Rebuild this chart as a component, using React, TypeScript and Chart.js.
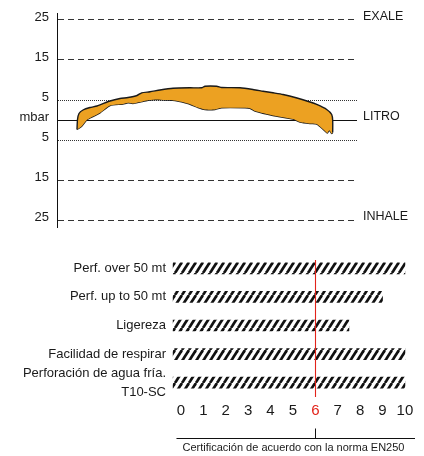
import React, { useEffect, useRef } from 'react';
import { Chart, registerables } from 'chart.js';

Chart.register(...registerables);

const FONT = '"Liberation Sans", Arial, sans-serif';
const INK = '#1a1a1a';
const RED = '#e2231a';
const ORANGE = '#eca122';

// ---------- top chart: breathing loop (mbar) ----------
const upperX = [6.67, 6.83, 7.33, 8.67, 11, 13.33, 17.67, 21, 23.67, 26.67, 28.23, 31, 34.33, 38.67, 44.33, 48.23, 49.33, 53.23, 54.9, 61, 65.33, 68.67, 72, 75.33, 80, 84.33, 86.57, 89.9, 91.57, 91.9, 91.9];
const upperY = [-2.38, 0.13, 1.63, 2.5, 3.13, 3.5, 4.75, 5.38, 5.63, 6.13, 6.8, 7.05, 7.5, 7.93, 8.05, 8.05, 8.45, 8.45, 8.13, 8.05, 7.63, 7.2, 6.8, 6.38, 5.5, 4.5, 3.88, 2.63, 1.38, -0.13, -3.13];
const lowerX = [6.67, 8.23, 9.9, 11, 14.33, 17.67, 22, 23.67, 25.33, 27.67, 30.33, 33.23, 36, 39.33, 43.67, 47, 49.33, 52.67, 54.9, 62.67, 64.33, 66, 72, 78.67, 81, 84.33, 86.57, 87.67, 89.33, 90.1, 90.77, 91.57, 91.9];
const lowerY = [-2.38, -1.55, 0, 0.5, 1.8, 3.63, 4, 4.3, 4.13, 4.5, 4.95, 5.13, 5, 4.88, 4.13, 3.13, 2.63, 2.63, 3.05, 3.05, 2.93, 2.25, 1.13, 0.25, -0.5, -0.88, -1, -1.63, -2.75, -3.25, -2.55, -3.38, -3.13];
const yTickValues = [25, 15, 5, 0, -5, -15, -25];
const yTickLabels = ['25', '15', '5', 'mbar', '5', '15', '25'];
const rightTickValues = [25, 0, -25];
const rightTickLabels = ['EXALE', 'LITRO', 'INHALE'];

// ---------- bottom chart: ratings ----------
const categories: (string | string[])[] = [
  'Perf. over 50 mt',
  'Perf. up to 50 mt',
  'Ligereza',
  'Facilidad de respirar',
  ['Perforación de agua fría.', 'T10-SC'],
];
const scores = [10, 9, 7.5, 10, 10];
const scoreTicks = [0, 1, 2, 3, 4, 5, 6, 7, 8, 9, 10];
const certifiedScore = 6;
const axisTitle = 'Certificación de acuerdo con la norma EN250';

function fixSize(s: any, w?: number, h?: number) {
  if (w !== undefined) s.width = w;
  if (h !== undefined) s.height = h;
  s.paddingTop = 0;
  s.paddingBottom = 0;
  s.paddingLeft = 0;
  s.paddingRight = 0;
}

function makeHatch(): CanvasPattern | string {
  const W = 7;
  const H = 11;
  const c = document.createElement('canvas');
  c.width = W;
  c.height = H;
  const g = c.getContext('2d');
  if (!g) return INK;
  g.strokeStyle = '#111';
  g.lineWidth = 2.7;
  for (const o of [-W, 0, W]) {
    g.beginPath();
    g.moveTo(o, H);
    g.lineTo(o + W, 0);
    g.stroke();
  }
  return g.createPattern(c, 'repeat') || INK;
}

function TopChart() {
  const ref = useRef<HTMLCanvasElement>(null);
  useEffect(() => {
    if (!ref.current) return;
    const chart = new Chart(ref.current, {
      type: 'line',
      data: {
        datasets: [
          {
            data: upperX.map((x, i) => ({ x, y: upperY[i] })),
            borderColor: INK,
            borderWidth: 1.4,
            backgroundColor: ORANGE,
            fill: '+1',
            pointRadius: 0,
            tension: 0.2,
          },
          {
            data: lowerX.map((x, i) => ({ x, y: lowerY[i] })),
            borderColor: INK,
            borderWidth: 1.4,
            fill: false,
            pointRadius: 0,
            tension: 0.2,
          },
        ],
      },
      options: {
        animation: false,
        responsive: false,
        maintainAspectRatio: false,
        layout: { padding: { top: 13, bottom: 13, left: 0, right: 0 } },
        plugins: { legend: { display: false }, tooltip: { enabled: false } },
        scales: {
          x: { type: 'linear', min: 0, max: 100, display: false },
          y: {
            type: 'linear',
            min: -26.75,
            max: 26.75,
            position: 'left',
            z: 1,
            afterBuildTicks: (s: any) => {
              s.ticks = yTickValues.map((v) => ({ value: v }));
            },
            afterFit: (s: any) => fixSize(s, 57),
            ticks: {
              callback: (v: any) => yTickLabels[yTickValues.indexOf(Number(v))],
              font: { family: FONT, size: 13 },
              color: INK,
              padding: 8,
              labelOffset: -3,
              autoSkip: false,
            },
            grid: {
              drawTicks: false,
              lineWidth: 1,
              color: (ctx: any) => (ctx.tick && ctx.tick.value === 0 ? '#111' : '#333'),
            },
            border: {
              display: true,
              color: '#111',
              width: 1,
              dash: (ctx: any) => {
                const v = ctx.tick ? ctx.tick.value : undefined;
                if (v === undefined || v === 0) return [];
                if (Math.abs(v) === 5) return [1, 1];
                return [6, 4];
              },
            },
          },
          y2: {
            type: 'linear',
            min: -26.75,
            max: 26.75,
            position: 'right',
            afterBuildTicks: (s: any) => {
              s.ticks = rightTickValues.map((v) => ({ value: v }));
            },
            afterFit: (s: any) => fixSize(s, 67),
            ticks: {
              callback: (v: any) => rightTickLabels[rightTickValues.indexOf(Number(v))],
              font: { family: FONT, size: 12.5 },
              color: INK,
              padding: 6,
              labelOffset: -3,
              autoSkip: false,
            },
            grid: { display: false, drawTicks: false },
            border: { display: false },
          },
        },
      },
    } as any);
    return () => chart.destroy();
  }, []);
  return <canvas ref={ref} width={424} height={240} style={{ display: 'block' }} />;
}

function BottomChart() {
  const ref = useRef<HTMLCanvasElement>(null);
  useEffect(() => {
    if (!ref.current) return;
    const markerPlugin = {
      id: 'certMarker',
      afterDatasetsDraw(chart: any) {
        const { ctx, chartArea } = chart;
        const x = chart.scales.x;
        const px = Math.round(x.getPixelForValue(certifiedScore)) + 0.5;
        ctx.save();
        ctx.strokeStyle = RED;
        ctx.lineWidth = 1.1;
        ctx.beginPath();
        ctx.moveTo(px, chartArea.top + 6);
        ctx.lineTo(px, chartArea.bottom);
        ctx.stroke();
        const yLine = Math.round(x.bottom - 18) + 0.5;
        ctx.strokeStyle = '#111';
        ctx.lineWidth = 1;
        ctx.beginPath();
        ctx.moveTo(x.getPixelForValue(-0.2), yLine);
        ctx.lineTo(chartArea.right, yLine);
        ctx.stroke();
        ctx.beginPath();
        ctx.moveTo(px, yLine - 10);
        ctx.lineTo(px, yLine);
        ctx.stroke();
        ctx.restore();
      },
    };
    const chart = new Chart(ref.current, {
      type: 'bar',
      data: {
        labels: categories,
        datasets: [
          {
            data: scores,
            backgroundColor: makeHatch(),
            borderWidth: 0,
            barThickness: 11,
            base: -0.35,
          },
        ],
      },
      options: {
        indexAxis: 'y',
        animation: false,
        responsive: false,
        maintainAspectRatio: false,
        layout: { padding: { top: 14, right: 9, left: 0, bottom: 0 } },
        plugins: { legend: { display: false }, tooltip: { enabled: false } },
        scales: {
          x: {
            type: 'linear',
            min: -0.4,
            max: 10.45,
            afterBuildTicks: (s: any) => {
              s.ticks = scoreTicks.map((v) => ({ value: v }));
            },
            afterFit: (s: any) => fixSize(s, undefined, 59),
            ticks: {
              font: { family: FONT, size: 15 },
              color: (ctx: any) => (ctx.tick && ctx.tick.value === certifiedScore ? RED : INK),
              padding: 5,
              autoSkip: false,
              maxRotation: 0,
            },
            grid: { display: false, drawTicks: false },
            border: { display: false },
            title: {
              display: true,
              text: axisTitle,
              font: { family: FONT, size: 11 },
              color: INK,
              padding: { top: 4, bottom: 1 },
            },
          },
          y: {
            afterFit: (s: any) => fixSize(s, 172),
            ticks: {
              font: { family: FONT, size: 13, lineHeight: 1.45 },
              color: INK,
              padding: 6,
              autoSkip: false,
            },
            grid: { display: false, drawTicks: false },
            border: { display: false },
          },
        },
      },
      plugins: [markerPlugin],
    } as any);
    return () => chart.destroy();
  }, []);
  return <canvas ref={ref} width={424} height={216} style={{ display: 'block' }} />;
}

export default function App() {
  return (
    <div
      style={{
        position: 'absolute',
        left: 0,
        top: 0,
        width: 424,
        height: 456,
        background: '#fff',
        overflow: 'hidden',
      }}
    >
      <TopChart />
      <BottomChart />
    </div>
  );
}
